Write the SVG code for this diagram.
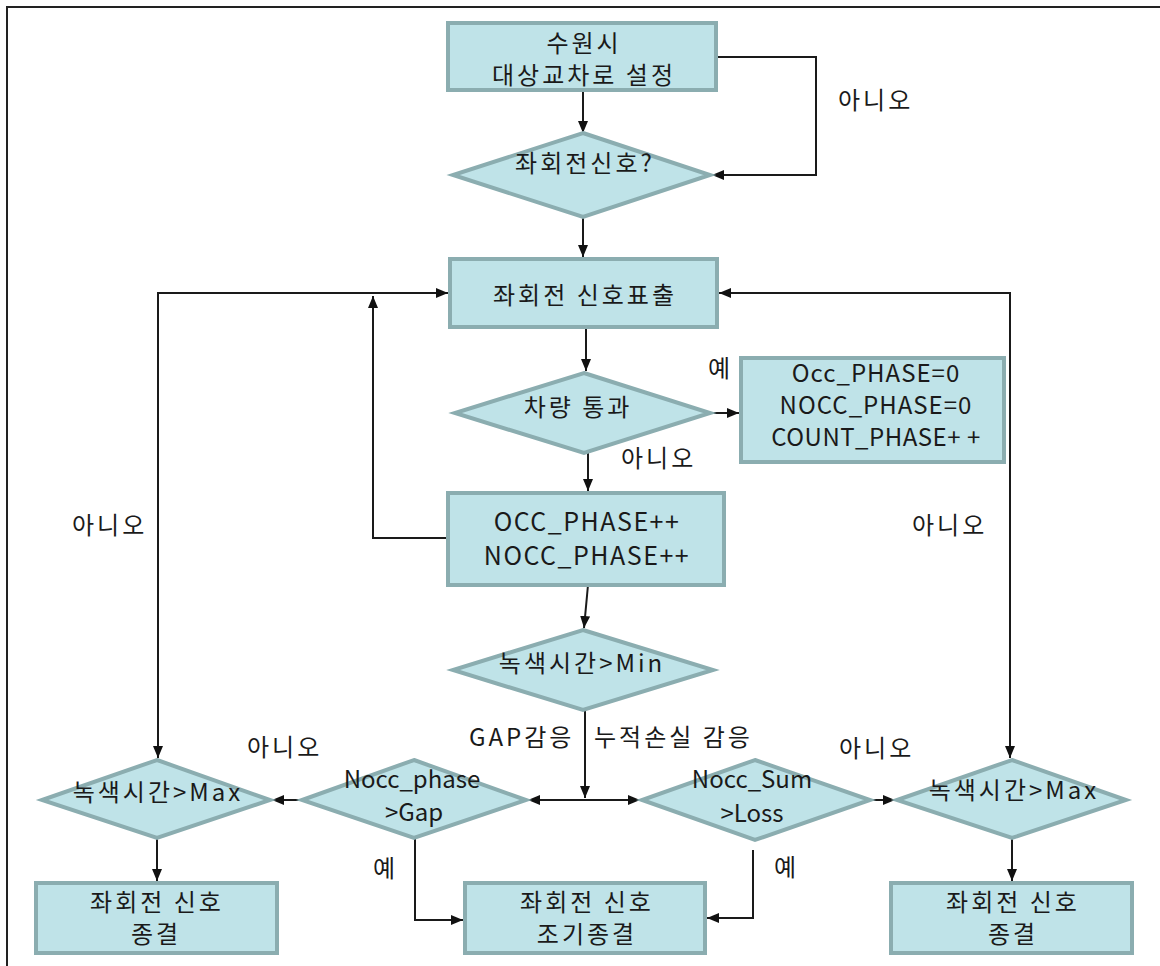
<svg xmlns="http://www.w3.org/2000/svg" width="1160" height="966" viewBox="0 0 1160 966">
<defs>
<style>
.n{fill:#bfe3e8;stroke:#8badb0;stroke-width:4}
.t{font-family:"Noto Sans CJK KR","Noto Sans",sans-serif;font-size:24px;fill:#1a1a1a;text-anchor:middle;letter-spacing:3px}
.e{font-family:"Noto Sans CJK KR","Noto Sans",sans-serif;font-size:25px;fill:#1a1a1a;text-anchor:middle}
.l{font-family:"Noto Sans CJK KR","Noto Sans",sans-serif;font-size:24px;fill:#1a1a1a;letter-spacing:3px}
.c{fill:none;stroke:#1a1a1a;stroke-width:2}
</style>
<marker id="a" viewBox="0 0 12 10" refX="12" refY="5" markerWidth="12" markerHeight="10" orient="auto-start-reverse" markerUnits="userSpaceOnUse">
<path d="M0,0 L12,5 L0,10 z" fill="#111"/>
</marker>
</defs>
<rect width="1160" height="966" fill="#fff"/>
<path d="M7,966 V7 H1160" fill="none" stroke="#222" stroke-width="2"/>

<g id="connectors">
<path class="c" d="M583,90 V133" marker-end="url(#a)"/>
<path class="c" d="M716,57 H816 V175 H712" marker-end="url(#a)"/>
<path class="c" d="M583,217 V257" marker-end="url(#a)"/>
<path class="c" d="M158,758 V293 H448" marker-start="url(#a)" marker-end="url(#a)"/>
<path class="c" d="M1010,758 V293 H719" marker-start="url(#a)" marker-end="url(#a)"/>
<path class="c" d="M586,327 V371" marker-end="url(#a)"/>
<path class="c" d="M710,413 H739" marker-end="url(#a)"/>
<path class="c" d="M588,453 V491" marker-end="url(#a)"/>
<path class="c" d="M448,538 H373 V296" marker-end="url(#a)"/>
<path class="c" d="M588,585 L584,628" marker-end="url(#a)"/>
<path class="c" d="M585,710 V798" marker-end="url(#a)"/>
<path class="c" d="M585,800 H528" marker-end="url(#a)"/>
<path class="c" d="M585,800 H640" marker-end="url(#a)"/>
<path class="c" d="M302,800 H272" marker-end="url(#a)"/>
<path class="c" d="M870,800 H895" marker-end="url(#a)"/>
<path class="c" d="M157,838 V881" marker-end="url(#a)"/>
<path class="c" d="M415,838 V920 H463" marker-end="url(#a)"/>
<path class="c" d="M753,850 V918 H707" marker-end="url(#a)"/>
<path class="c" d="M1012,838 V881" marker-end="url(#a)"/>
</g>

<g id="start">
<rect class="n" x="448" y="23" width="268" height="67"/>
<text class="t" x="584" y="52">수원시</text>
<text class="t" x="584" y="84">대상교차로 설정</text>
</g>
<g id="dec-signal">
<polygon class="n" points="583,133 710,175 583,217 453,175"/>
<text class="t" x="585" y="172">좌회전신호?</text>
</g>
<g id="signal-on">
<rect class="n" x="450" y="259" width="267" height="68"/>
<text class="t" x="585" y="304">좌회전 신호표출</text>
</g>
<g id="dec-car">
<polygon class="n" points="584,373 710,413 584,453 455,413"/>
<text class="t" x="578" y="416">차량 통과</text>
</g>
<g id="reset">
<rect class="n" x="741" y="358" width="263" height="104"/>
<text class="e" x="876" y="382" style="font-size:24px;letter-spacing:1px">Occ_PHASE=0</text>
<text class="e" x="876" y="414" style="font-size:24px;letter-spacing:1px">NOCC_PHASE=0</text>
<text class="e" x="876" y="446" style="font-size:24px;letter-spacing:0.5px">COUNT_PHASE+ +</text>
</g>
<g id="inc">
<rect class="n" x="448" y="493" width="276" height="92"/>
<text class="e" x="587" y="531" style="letter-spacing:1.5px">OCC_PHASE++</text>
<text class="e" x="587" y="565" style="letter-spacing:1.5px">NOCC_PHASE++</text>
</g>
<g id="dec-min">
<polygon class="n" points="583,630 713,670 583,710 453,670"/>
<text class="t" x="582" y="672">녹색시간&gt;Min</text>
</g>
<g id="dec-gap">
<polygon class="n" points="414,760 526,800 414,838 302,800"/>
<text class="e" x="412" y="788" style="font-size:24px">Nocc_phase</text>
<text class="e" x="414" y="821" style="font-size:24px">&gt;Gap</text>
</g>
<g id="dec-loss">
<polygon class="n" points="755,760 870,800 755,840 642,800"/>
<text class="e" x="752" y="788" style="font-size:24px">Nocc_Sum</text>
<text class="e" x="752" y="822" style="font-size:24px">&gt;Loss</text>
</g>
<g id="dec-max-l">
<polygon class="n" points="157,760 270,800 157,838 42,800"/>
<text class="t" x="158" y="801">녹색시간&gt;Max</text>
</g>
<g id="dec-max-r">
<polygon class="n" points="1012,760 1126,800 1012,838 897,800"/>
<text class="t" x="1014" y="799">녹색시간&gt;Max</text>
</g>
<g id="end-l">
<rect class="n" x="36" y="883" width="241" height="70"/>
<text class="t" x="157" y="911">좌회전 신호</text>
<text class="t" x="156" y="943">종결</text>
</g>
<g id="end-m">
<rect class="n" x="465" y="883" width="240" height="70"/>
<text class="t" x="587" y="911">좌회전 신호</text>
<text class="t" x="587" y="943">조기종결</text>
</g>
<g id="end-r">
<rect class="n" x="891" y="883" width="241" height="70"/>
<text class="t" x="1013" y="911">좌회전 신호</text>
<text class="t" x="1013" y="943">종결</text>
</g>
<g id="labels">
<text class="l" x="838" y="109">아니오</text>
<text class="l" x="708" y="377">예</text>
<text class="l" x="621" y="467">아니오</text>
<text class="l" x="72" y="534">아니오</text>
<text class="l" x="912" y="534">아니오</text>
<text class="l" x="469" y="746">GAP감응</text>
<text class="l" x="594" y="746">누적손실 감응</text>
<text class="l" x="247" y="756">아니오</text>
<text class="l" x="839" y="757">아니오</text>
<text class="l" x="373" y="877">예</text>
<text class="l" x="774" y="876">예</text>
</g>
</svg>
